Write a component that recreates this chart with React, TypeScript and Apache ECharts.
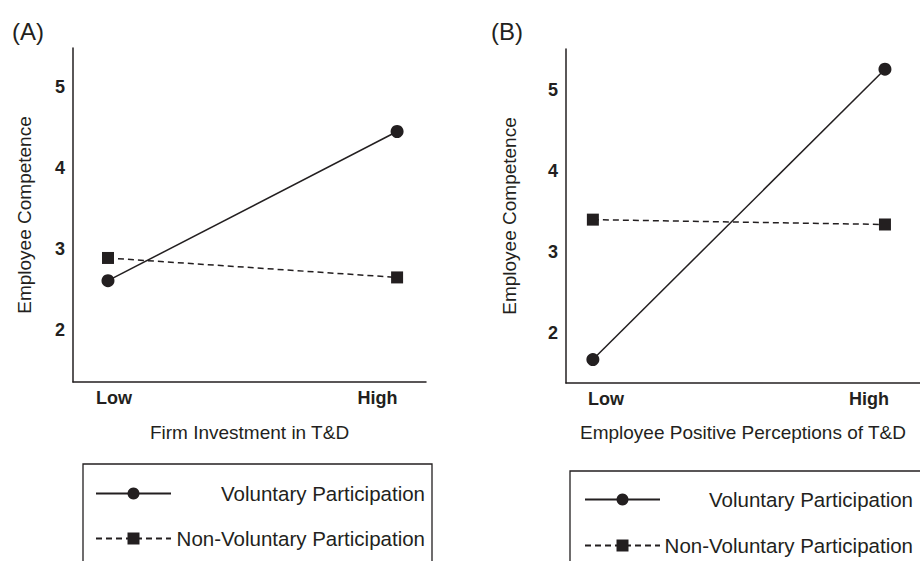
import React, { useEffect, useRef } from "react";
import * as echarts from "echarts";

const categories = ["Low", "High"];
const seriesNames = ["Voluntary Participation", "Non-Voluntary Participation"];
const yTicks = [2, 3, 4, 5];

// Panel A: Firm Investment in T&D
const voluntaryA = [2.61, 4.45];
const nonVoluntaryA = [2.89, 2.65];

// Panel B: Employee Positive Perceptions of T&D
const voluntaryB = [1.67, 5.26];
const nonVoluntaryB = [3.4, 3.34];

const INK = "#231f20";
const FONT = "'Liberation Sans', Arial, Helvetica, sans-serif";

const toPoints = (vals: number[]) => vals.map((v, i) => [i, v]);

export default function App() {
  const ref = useRef<HTMLDivElement>(null);

  useEffect(() => {
    if (!ref.current) return;
    const chart = echarts.init(ref.current, null, { renderer: "svg" });

    const xAxisBase = (gridIndex: number, min: number, max: number, labelVals: number[], name: string, nameGap: number) => ({
      type: "value",
      gridIndex,
      min,
      max,
      name,
      nameLocation: "middle",
      nameGap,
      nameTextStyle: { fontSize: 19, color: INK, fontFamily: FONT },
      axisLine: { show: true, onZero: false, lineStyle: { color: INK, width: 1.5 } },
      axisTick: { show: false },
      splitLine: { show: false },
      axisLabel: {
        customValues: labelVals,
        formatter: (v: number) => categories[Math.round(v)] ?? "",
        fontWeight: "bold",
        fontSize: 18,
        color: INK,
        margin: 7,
        fontFamily: FONT,
      },
    });

    const yAxisBase = (gridIndex: number, min: number, max: number, nameGap: number) => ({
      type: "value",
      gridIndex,
      min,
      max,
      name: "Employee Competence",
      nameLocation: "middle",
      nameGap,
      nameRotate: 90,
      nameTextStyle: { fontSize: 19, color: INK, fontFamily: FONT },
      axisLine: { show: true, onZero: false, lineStyle: { color: INK, width: 1.5 } },
      axisTick: { show: false },
      splitLine: { show: false },
      axisLabel: {
        customValues: yTicks,
        fontWeight: "bold",
        fontSize: 18,
        color: INK,
        margin: 8,
        fontFamily: FONT,
      },
    });

    const lineSeries = (name: string, vals: number[], idx: number, dashed: boolean) => ({
      type: "line",
      name,
      xAxisIndex: idx,
      yAxisIndex: idx,
      data: toPoints(vals),
      symbol: dashed ? "rect" : "circle",
      symbolSize: dashed ? 12 : 13,
      lineStyle: { color: INK, width: 1.5, type: dashed ? [6, 4] : "solid" },
      itemStyle: { color: INK },
    });

    const legendBase = (left: number, top: number, padding: number[], itemGap: number, textWidth: number) => ({
      orient: "vertical",
      left,
      top,
      width: 360,
      height: 220,
      padding,
      itemWidth: 75,
      itemHeight: 15,
      itemGap,
      borderColor: INK,
      borderWidth: 1.3,
      selectedMode: false,
      data: seriesNames,
      formatter: (n: string) => `{t|${n}}`,
      textStyle: {
        fontFamily: FONT,
        rich: {
          t: { width: textWidth, align: "right", fontSize: 20.5, lineHeight: 20, color: INK, fontFamily: FONT },
        },
      },
    });

    chart.setOption({
      animation: false,
      textStyle: { fontFamily: FONT },
      title: [
        { text: "(A)", left: 12, top: 19, padding: 0, textStyle: { fontSize: 24, fontWeight: "normal", color: INK, fontFamily: FONT } },
        { text: "(B)", left: 491, top: 19, padding: 0, textStyle: { fontSize: 24, fontWeight: "normal", color: INK, fontFamily: FONT } },
      ],
      grid: [
        { left: 73, top: 48, right: 494, bottom: 179 },
        { left: 566, top: 49, right: 0, bottom: 178 },
      ],
      xAxis: [
        xAxisBase(0, -0.121, 1.1, [0.021, 0.932], "Firm Investment in T&D", 41),
        xAxisBase(1, -0.092, 1.12, [0.045, 0.945], "Employee Positive Perceptions of T&D", 40),
      ],
      yAxis: [yAxisBase(0, 1.36, 5.48, 39), yAxisBase(1, 1.38, 5.51, 47)],
      legend: [
        legendBase(83, 464, [19, 7, 40, 12], 24, 249),
        legendBase(570, 471, [18, 8, 40, 14], 25, 248),
      ],
      series: [
        lineSeries(seriesNames[0], voluntaryA, 0, false),
        lineSeries(seriesNames[1], nonVoluntaryA, 0, true),
        lineSeries(seriesNames[0], voluntaryB, 1, false),
        lineSeries(seriesNames[1], nonVoluntaryB, 1, true),
      ],
    });

    return () => chart.dispose();
  }, []);

  return (
    <div
      ref={ref}
      style={{ position: "absolute", left: 0, top: 0, width: 920, height: 561, background: "#fff" }}
    />
  );
}
